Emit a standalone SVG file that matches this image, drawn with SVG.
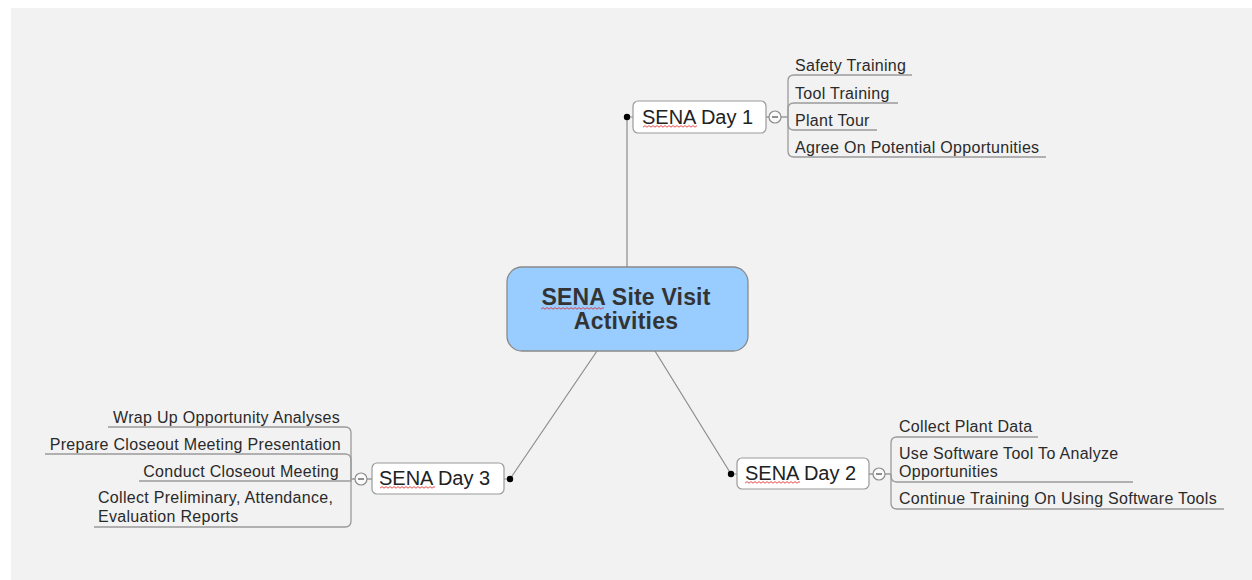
<svg xmlns="http://www.w3.org/2000/svg" width="1252" height="580" viewBox="0 0 1252 580">
  <style>
    .bg { fill: #f2f2f2; }
    .link { fill: none; stroke: #8c8c8c; stroke-width: 1.2; }
    .branch { fill: none; stroke: #9a9a9a; stroke-width: 1.3; }
    .dot { fill: #000; }
    .toggle { fill: #fafafa; stroke: #8c8c8c; stroke-width: 1.2; }
    .minus { stroke: #555; stroke-width: 1.3; }
    .topic { fill: #ffffff; stroke: #9a9a9a; stroke-width: 1.2; }
    .central { fill: #99ccff; stroke: #8a8a8a; stroke-width: 1.3; }
    .t-central { font-family: "Liberation Sans", Arial, sans-serif; font-size: 23px; font-weight: bold; fill: #333333; text-anchor: middle; letter-spacing: 0.2px; }
    .t-topic { font-family: "Liberation Sans", Arial, sans-serif; font-size: 20px; fill: #222222; }
    .t-sub { font-family: "Liberation Sans", Arial, sans-serif; font-size: 16px; fill: #2a2a2a; letter-spacing: 0.3px; }
    .t-end { text-anchor: end; }
  </style>
  <defs>
    <!-- spell-check squiggle tile -->
    <pattern id="squiggle" patternUnits="userSpaceOnUse" width="4" height="3">
      <path d="M0,2.2 L2,0.6 L4,2.2" fill="none" stroke="#e02020" stroke-width="0.8"/>
    </pattern>
  </defs>

  <rect x="0" y="0" width="1252" height="580" fill="#ffffff"/>
  <rect class="bg" x="11" y="8" width="1241" height="572"/>

  <!-- connectors -->
  <g id="connectors">
    <!-- central to main topics -->
    <path class="link" d="M627,267 V117 H633"/>
    <path class="link" d="M655,351 L731,474 H737"/>
    <path class="link" d="M597,351 L510,479 H504"/>

    <!-- Day 1 branches -->
    <path class="branch" d="M766,117 H769 M781,117 H788"/>
    <path class="branch" d="M788,117 V81 Q788,75 794,75 H912"/>
    <path class="branch" d="M788,117 V109 Q788,103 794,103 H898"/>
    <path class="branch" d="M788,117 V124 Q788,130 794,130 H877"/>
    <path class="branch" d="M788,117 V151 Q788,157 794,157 H1046"/>

    <!-- Day 2 branches -->
    <path class="branch" d="M869,474 H873 M885,474 H891"/>
    <path class="branch" d="M891,474 V443 Q891,437 897,437 H1038"/>
    <path class="branch" d="M891,474 V476 Q891,482 897,482 H1133"/>
    <path class="branch" d="M891,474 V503 Q891,509 897,509 H1224"/>

    <!-- Day 3 branches -->
    <path class="branch" d="M372,479 H367 M355,479 H351"/>
    <path class="branch" d="M351,479 V433 Q351,427 345,427 H108"/>
    <path class="branch" d="M351,479 V460 Q351,454 345,454 H45"/>
    <path class="branch" d="M351,479 V481 H139"/>
    <path class="branch" d="M351,479 V521 Q351,527 345,527 H94"/>
  </g>

  <!-- central topic -->
  <g id="central">
    <rect class="central" x="507" y="267" width="241" height="84" rx="15" ry="15"/>
    <text class="t-central" x="626" y="305">SENA Site Visit</text>
    <text class="t-central" x="626" y="329">Activities</text>
    <g transform="translate(541,307)"><rect width="63" height="3" fill="url(#squiggle)"/></g>
  </g>

  <!-- SENA Day 1 -->
  <g id="day1">
    <circle class="dot" cx="627" cy="117" r="3.2"/>
    <rect class="topic" x="633" y="101" width="133" height="32" rx="5" ry="5"/>
    <text class="t-topic" x="642" y="124">SENA Day 1</text>
    <g transform="translate(643,125)"><rect width="54" height="3" fill="url(#squiggle)"/></g>
    <circle class="toggle" cx="775" cy="117" r="6"/>
    <line class="minus" x1="772" y1="117" x2="778" y2="117"/>
  </g>
  <g id="day1-safety"><text class="t-sub" x="795" y="71">Safety Training</text></g>
  <g id="day1-tool"><text class="t-sub" x="795" y="99">Tool Training</text></g>
  <g id="day1-plant"><text class="t-sub" x="795" y="126">Plant Tour</text></g>
  <g id="day1-agree"><text class="t-sub" x="795" y="153">Agree On Potential Opportunities</text></g>

  <!-- SENA Day 2 -->
  <g id="day2">
    <circle class="dot" cx="731" cy="474" r="3.2"/>
    <rect class="topic" x="737" y="458" width="132" height="31" rx="5" ry="5"/>
    <text class="t-topic" x="745" y="480">SENA Day 2</text>
    <g transform="translate(745,481)"><rect width="55" height="3" fill="url(#squiggle)"/></g>
    <circle class="toggle" cx="879" cy="474" r="6"/>
    <line class="minus" x1="876" y1="474" x2="882" y2="474"/>
  </g>
  <g id="day2-collect"><text class="t-sub" x="899" y="432">Collect Plant Data</text></g>
  <g id="day2-software">
    <text class="t-sub" x="899" y="459">Use Software Tool To Analyze</text>
    <text class="t-sub" x="899" y="477">Opportunities</text>
  </g>
  <g id="day2-training"><text class="t-sub" x="899" y="504">Continue Training On Using Software Tools</text></g>

  <!-- SENA Day 3 -->
  <g id="day3">
    <circle class="dot" cx="510" cy="479" r="3.2"/>
    <rect class="topic" x="372" y="463" width="132" height="31" rx="5" ry="5"/>
    <text class="t-topic" x="379" y="485">SENA Day 3</text>
    <g transform="translate(380,486)"><rect width="55" height="3" fill="url(#squiggle)"/></g>
    <circle class="toggle" cx="361" cy="479" r="6"/>
    <line class="minus" x1="358" y1="479" x2="364" y2="479"/>
  </g>
  <g id="day3-wrap"><text class="t-sub t-end" x="340" y="423">Wrap Up Opportunity Analyses</text></g>
  <g id="day3-prepare"><text class="t-sub t-end" x="341" y="450">Prepare Closeout Meeting Presentation</text></g>
  <g id="day3-conduct"><text class="t-sub t-end" x="339" y="477">Conduct Closeout Meeting</text></g>
  <g id="day3-reports">
    <text class="t-sub" x="98" y="503">Collect Preliminary, Attendance,</text>
    <text class="t-sub" x="98" y="522">Evaluation Reports</text>
  </g>
</svg>
